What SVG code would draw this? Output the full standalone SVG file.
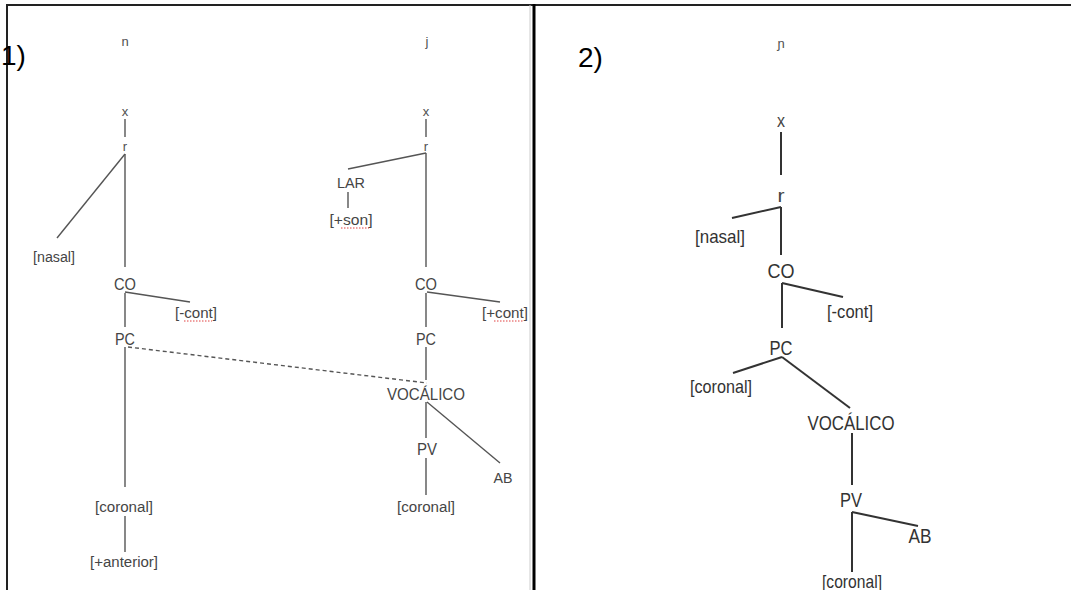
<svg xmlns="http://www.w3.org/2000/svg" width="1071" height="590" viewBox="0 0 1071 590">
<style>
text{font-family:"Liberation Sans",Arial,sans-serif;text-anchor:middle;}
.t1{fill:#454545;font-size:14px;}
.t1b{fill:#454545;font-size:16px;}
.t1s{fill:#505050;font-size:13px;}
.t2{fill:#333;font-size:19px;}
.t2b{fill:#333;font-size:21px;}
.t2s{fill:#444;font-size:18px;}
.num{fill:#000;font-size:28px;text-anchor:start;}
.l1{stroke:#555;stroke-width:1.4;fill:none;}
.l2{stroke:#333;stroke-width:2;fill:none;}
.dash{stroke:#555;stroke-width:1.4;stroke-dasharray:4 3;fill:none;}
.sp{stroke:#e04040;stroke-width:1;stroke-dasharray:1.5 1.5;fill:none;}
.frame{stroke:#222;stroke-width:2;fill:none;}
</style>
<rect x="0" y="0" width="1071" height="590" fill="#fff"/>
<g id="frame">
<line class="frame" x1="6" y1="5" x2="1071" y2="5"/>
<line class="frame" x1="7" y1="4" x2="7" y2="590"/>
<line x1="530" y1="5" x2="530" y2="590" stroke="#ccc" stroke-width="1"/>
<line x1="534" y1="4" x2="534" y2="590" stroke="#000" stroke-width="3"/>
<text class="num" x="1" y="65">1)</text>
<text class="num" x="578" y="67">2)</text>
</g>
<g id="connectors">
<line class="l1" x1="125" y1="119" x2="125" y2="137"/>
<line class="l1" x1="125" y1="154" x2="57" y2="238"/>
<line class="l1" x1="125" y1="154" x2="125" y2="267"/>
<line class="l1" x1="125" y1="292" x2="190" y2="302"/>
<line class="l1" x1="125" y1="293" x2="125" y2="327"/>
<line class="l1" x1="125" y1="347" x2="125" y2="487"/>
<line class="l1" x1="125" y1="516" x2="125" y2="552"/>
<line class="dash" x1="128" y1="347" x2="427" y2="383"/>
<line class="l1" x1="426" y1="119" x2="426" y2="137"/>
<line class="l1" x1="426" y1="153" x2="348" y2="169"/>
<line class="l1" x1="348" y1="192" x2="348" y2="208"/>
<line class="l1" x1="426" y1="153" x2="426" y2="267"/>
<line class="l1" x1="427" y1="292" x2="500" y2="302"/>
<line class="l1" x1="426" y1="293" x2="426" y2="327"/>
<line class="l1" x1="426" y1="347" x2="426" y2="380"/>
<line class="l1" x1="427" y1="402" x2="500" y2="463"/>
<line class="l1" x1="426" y1="402" x2="426" y2="438"/>
<line class="l1" x1="426" y1="458" x2="426" y2="495"/>
<line class="l2" x1="781" y1="132" x2="781" y2="175"/>
<line class="l2" x1="781" y1="207" x2="732" y2="218"/>
<line class="l2" x1="781" y1="207" x2="781" y2="255"/>
<line class="l2" x1="782" y1="283" x2="843" y2="297"/>
<line class="l2" x1="782" y1="283" x2="782" y2="328"/>
<line class="l2" x1="782" y1="357" x2="733" y2="373"/>
<line class="l2" x1="782" y1="357" x2="850" y2="408"/>
<line class="l2" x1="852" y1="433" x2="852" y2="485"/>
<line class="l2" x1="852" y1="512" x2="918" y2="526"/>
<line class="l2" x1="852" y1="512" x2="852" y2="572"/>
</g>
<g id="tree1-left">
<text id="n" class="t1s" x="125" y="46">n</text>
<text id="x1" class="t1s" x="125" y="116">x</text>
<text id="r1" class="t1s" x="125" y="151">r</text>
<text id="nasal1" class="t1" x="54" y="262" textLength="42" lengthAdjust="spacingAndGlyphs">[nasal]</text>
<text id="co1" class="t1b" x="125" y="290" textLength="22" lengthAdjust="spacingAndGlyphs">CO</text>
<text id="cont1" class="t1" x="196" y="318" textLength="42" lengthAdjust="spacingAndGlyphs">[-cont]</text>
<line class="sp" x1="184" y1="321" x2="212" y2="321"/>
<text id="pc1" class="t1b" x="125" y="345" textLength="20" lengthAdjust="spacingAndGlyphs">PC</text>
<text id="cor1" class="t1" x="124" y="512" textLength="58" lengthAdjust="spacingAndGlyphs">[coronal]</text>
<text id="ant1" class="t1" x="124" y="567" textLength="68" lengthAdjust="spacingAndGlyphs">[+anterior]</text>
</g>
<g id="tree1-right">
<text id="j" class="t1s" x="427" y="46">j</text>
<text id="x2" class="t1s" x="426" y="116">x</text>
<text id="r2" class="t1s" x="426" y="151">r</text>
<text id="lar" class="t1" x="351" y="188" textLength="28" lengthAdjust="spacingAndGlyphs">LAR</text>
<text id="son" class="t1" x="351" y="225" textLength="43" lengthAdjust="spacingAndGlyphs">[+son]</text>
<line class="sp" x1="341" y1="228" x2="369" y2="228"/>
<text id="co2" class="t1b" x="426" y="290" textLength="22" lengthAdjust="spacingAndGlyphs">CO</text>
<text id="cont2" class="t1" x="505" y="318" textLength="46" lengthAdjust="spacingAndGlyphs">[+cont]</text>
<line class="sp" x1="494" y1="321" x2="524" y2="321"/>
<text id="pc2" class="t1b" x="426" y="345" textLength="20" lengthAdjust="spacingAndGlyphs">PC</text>
<text id="voc1" class="t1b" x="426" y="400" textLength="78" lengthAdjust="spacingAndGlyphs">VOCÁLICO</text>
<text id="ab1" class="t1" x="503" y="483" textLength="19" lengthAdjust="spacingAndGlyphs">AB</text>
<text id="pv1" class="t1b" x="427" y="455" textLength="20" lengthAdjust="spacingAndGlyphs">PV</text>
<text id="cor2" class="t1" x="426" y="512" textLength="58" lengthAdjust="spacingAndGlyphs">[coronal]</text>
</g>
<g id="tree2">
<text id="nj" class="t1s" x="781" y="48" font-size="15">ɲ</text>
<text id="x3" class="t2s" x="781" y="127" textLength="8" lengthAdjust="spacingAndGlyphs">x</text>
<text id="r3" class="t2s" x="781" y="202" textLength="7" lengthAdjust="spacingAndGlyphs">r</text>
<text id="nasal3" class="t2" x="720" y="243" textLength="50" lengthAdjust="spacingAndGlyphs">[nasal]</text>
<text id="co3" class="t2b" x="781" y="278" textLength="27" lengthAdjust="spacingAndGlyphs">CO</text>
<text id="cont3" class="t2" x="850" y="318" textLength="46" lengthAdjust="spacingAndGlyphs">[-cont]</text>
<text id="pc3" class="t2b" x="781" y="355" textLength="23" lengthAdjust="spacingAndGlyphs">PC</text>
<text id="cor3" class="t2" x="721" y="393" textLength="62" lengthAdjust="spacingAndGlyphs">[coronal]</text>
<text id="voc3" class="t2b" x="851" y="430" textLength="87" lengthAdjust="spacingAndGlyphs">VOCÁLICO</text>
<text id="pv3" class="t2b" x="851" y="507" textLength="22" lengthAdjust="spacingAndGlyphs">PV</text>
<text id="ab3" class="t2b" x="920" y="543" textLength="23" lengthAdjust="spacingAndGlyphs">AB</text>
<text id="cor4" class="t2" x="852" y="588" textLength="60" lengthAdjust="spacingAndGlyphs">[coronal]</text>
</g>
</svg>
